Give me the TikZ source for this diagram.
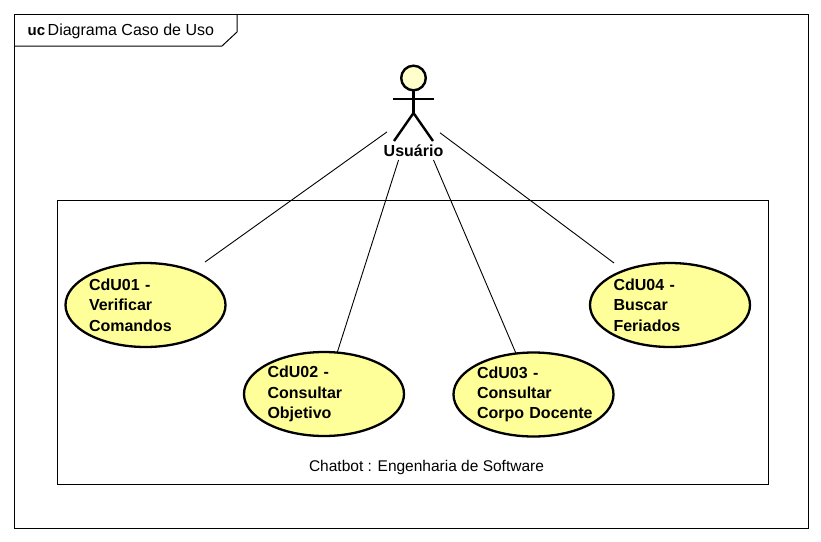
\documentclass[tikz,border=0pt]{standalone}
\usepackage{fontspec}
\setmainfont{Liberation Sans}
\usetikzlibrary{shapes.geometric}
\definecolor{usecasefill}{HTML}{FFFF99}
\definecolor{headfill}{HTML}{FFFFCC}
\tikzset{
  usecase/.style={ellipse,draw,line width=2.3pt,fill=usecasefill,minimum width=160pt,minimum height=84pt,
    inner sep=0pt,outer sep=0pt,text width=113pt,align=left,font=\fontsize{16}{20.3}\selectfont\bfseries},
  frameline/.style={line width=1pt},
  limb/.style={line width=2.4pt},
  assoc/.style={line width=0.9pt},
  plain/.style={inner sep=0pt,font=\fontsize{15.5}{18}\selectfont}
}
\begin{document}
\begin{tikzpicture}[x=1pt,y=-1pt]
  \useasboundingbox (0,0) rectangle (821,541);
  \fill[white] (0,0) rectangle (821,541);
  \draw[frameline] (14,14) rectangle (808,528);
  \draw[frameline] (14,46) -- (222,46) -- (237,32) -- (237,14);
  \node[plain,anchor=west,font=\fontsize{16}{18}\selectfont] (frametitle) at (27.5,31) {{\fontsize{15}{18}\selectfont\textbf{uc}}\hspace{2.5pt}Diagrama Caso de Uso};
  \draw[frameline] (57,200) rectangle (768,484);
  \node[plain] (systemname) at (426.5,467.5) {Chatbot : Engenharia de Software};
  % actor
  \node[minimum width=53pt,minimum height=94pt,inner sep=0pt,outer sep=0pt] (usuario) at (413.5,113) {};
  \draw[limb,fill=headfill] (413.5,78) circle (12.3);
  \draw[limb] (413.5,90.5) -- (413.5,113);
  \draw[limb] (393,99) -- (434,99);
  \draw[limb] (394,141) -- (413.5,113) -- (433,141);
  \node[plain,font=\fontsize{16}{18}\selectfont\bfseries] (usuariolabel) at (413.5,151) {Usuário};
  % use cases
  \node[usecase] (cdu01) at (145.5,305) {CdU01 -\\Verificar\\Comandos};
  \node[usecase] (cdu02) at (324,394) {CdU02 -\\Consultar\\Objetivo};
  \node[usecase] (cdu03) at (533.5,394.5) {CdU03 -\\Consultar\\\mbox{Corpo Docente}};
  \node[usecase] (cdu04) at (670,305) {CdU04 -\\Buscar\\Feriados};
  \coordinate (end01) at (205,262);
  \coordinate (end04) at (614,263);
  \draw[assoc] (usuario) -- (end01);
  \draw[assoc] (usuario) -- (cdu02);
  \draw[assoc] (usuario) -- (cdu03);
  \draw[assoc] (usuario) -- (end04);
\end{tikzpicture}
\end{document}
